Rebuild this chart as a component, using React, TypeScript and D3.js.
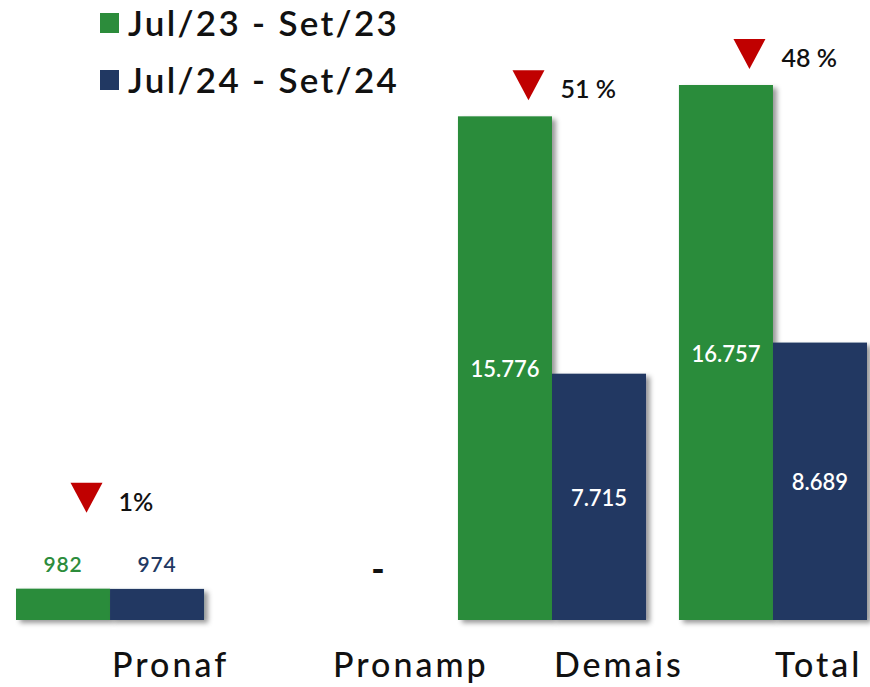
import * as d3 from "d3";

const categories = ["Pronaf", "Pronamp", "Demais", "Total"];
const seriesNames = ["Jul/23 - Set/23", "Jul/24 - Set/24"];
const valuesJul23 = [982, 0, 15776, 16757];
const valuesJul24 = [974, 0, 7715, 8689];
const changeLabels = ["1%", "", "51 %", "48 %"];

const colors = ["#2c8c3b", "#213862"];
const FONT = "Lato, 'Open Sans', sans-serif";

const ptBR = d3.formatLocale({
  decimal: ",",
  thousands: ".",
  grouping: [3],
  currency: ["R$", ""],
});
const fmt = ptBR.format(",d");

export default function App() {
  const width = 870;
  const height = 687;
  const baseline = 620;

  const series = [valuesJul23, valuesJul24];

  const x = d3
    .scaleBand<string>()
    .domain(categories)
    .range([16, 867])
    .paddingInner(0.149)
    .paddingOuter(0);

  const xSub = d3
    .scaleBand<number>()
    .domain([0, 1])
    .range([0, x.bandwidth()])
    .padding(0);

  const maxValue = d3.max(series.flat()) ?? 1;
  const y = d3.scaleLinear().domain([0, maxValue]).range([baseline, 85]);

  const bw = xSub.bandwidth();

  return (
    <svg
      width={width}
      height={height}
      style={{ position: "absolute", left: 0, top: 0, fontFamily: FONT }}
    >
      <defs>
        <filter id="shadow" x="-20%" y="-20%" width="150%" height="150%">
          <feDropShadow dx="4" dy="3" stdDeviation="2.5" floodColor="#000" floodOpacity="0.4" />
        </filter>
      </defs>

      {/* Legend */}
      {seriesNames.map((name, i) => (
        <g key={name} transform={`translate(100, ${13 + i * 57})`}>
          <rect width={19} height={20} fill={colors[i]} />
          <text x={28} y={23} fontSize={35} fontWeight={600} fill="#111" letterSpacing={2.3}>
            {name}
          </text>
        </g>
      ))}

      {/* Bars */}
      {categories.map((cat, ci) => {
        const gx = x(cat) ?? 0;
        const hasBars = series.some((s) => s[ci] > 0);
        const topGreen = y(series[0][ci]);
        const labelsOutside = hasBars && baseline - topGreen < 60;
        return (
          <g key={cat}>
            {series.map((s, si) => {
              const v = s[ci];
              if (v <= 0) return null;
              const bx = gx + (xSub(si) ?? 0);
              const by = y(v);
              return (
                <rect
                  key={si}
                  x={bx}
                  y={by}
                  width={bw}
                  height={baseline - by}
                  fill={colors[si]}
                  filter="url(#shadow)"
                />
              );
            })}
            {series.map((s, si) => {
              const v = s[ci];
              const cx = gx + (xSub(si) ?? 0) + bw / 2;
              if (v <= 0) {
                if (si !== series.length - 1) return null;
                return (
                  <text
                    key={"l" + si}
                    x={cx}
                    y={baseline - 38}
                    textAnchor="middle"
                    fontSize={36}
                    fontWeight={900}
                    fill="#111"
                  >
                    -
                  </text>
                );
              }
              const by = y(v);
              if (labelsOutside) {
                return (
                  <text
                    key={"l" + si}
                    x={cx}
                    y={by - 17}
                    textAnchor="middle"
                    fontSize={21}
                    fontWeight={600}
                    letterSpacing={0.8}
                    fill={colors[si]}
                  >
                    {fmt(v)}
                  </text>
                );
              }
              return (
                <text
                  key={"l" + si}
                  x={cx}
                  y={(by + baseline) / 2 + 9}
                  textAnchor="middle"
                  fontSize={22}
                  fontWeight={600}
                  fill="#fff"
                >
                  {fmt(v)}
                </text>
              );
            })}
            {changeLabels[ci] && (
              <g>
                {(() => {
                  const triBottom = topGreen - (labelsOutside ? 76 : 16);
                  const tcx = gx + bw * 0.75;
                  const tri = d3.path();
                  tri.moveTo(tcx - 16, triBottom - 30);
                  tri.lineTo(tcx + 16, triBottom - 30);
                  tri.lineTo(tcx, triBottom);
                  tri.closePath();
                  return (
                    <>
                      <path d={tri.toString()} fill="#c00000" />
                      <text
                        x={tcx + 32}
                        y={triBottom - 2}
                        fontSize={25}
                        fontWeight={600}
                        fill="#111"
                      >
                        {changeLabels[ci]}
                      </text>
                    </>
                  );
                })()}
              </g>
            )}
            {/* Category label */}
            <text
              x={gx + x.bandwidth() / 2 + 2}
              y={677}
              fontSize={34}
              fontWeight={500}
              letterSpacing={3}
              fill="#111"
            >
              {cat}
            </text>
          </g>
        );
      })}
    </svg>
  );
}
